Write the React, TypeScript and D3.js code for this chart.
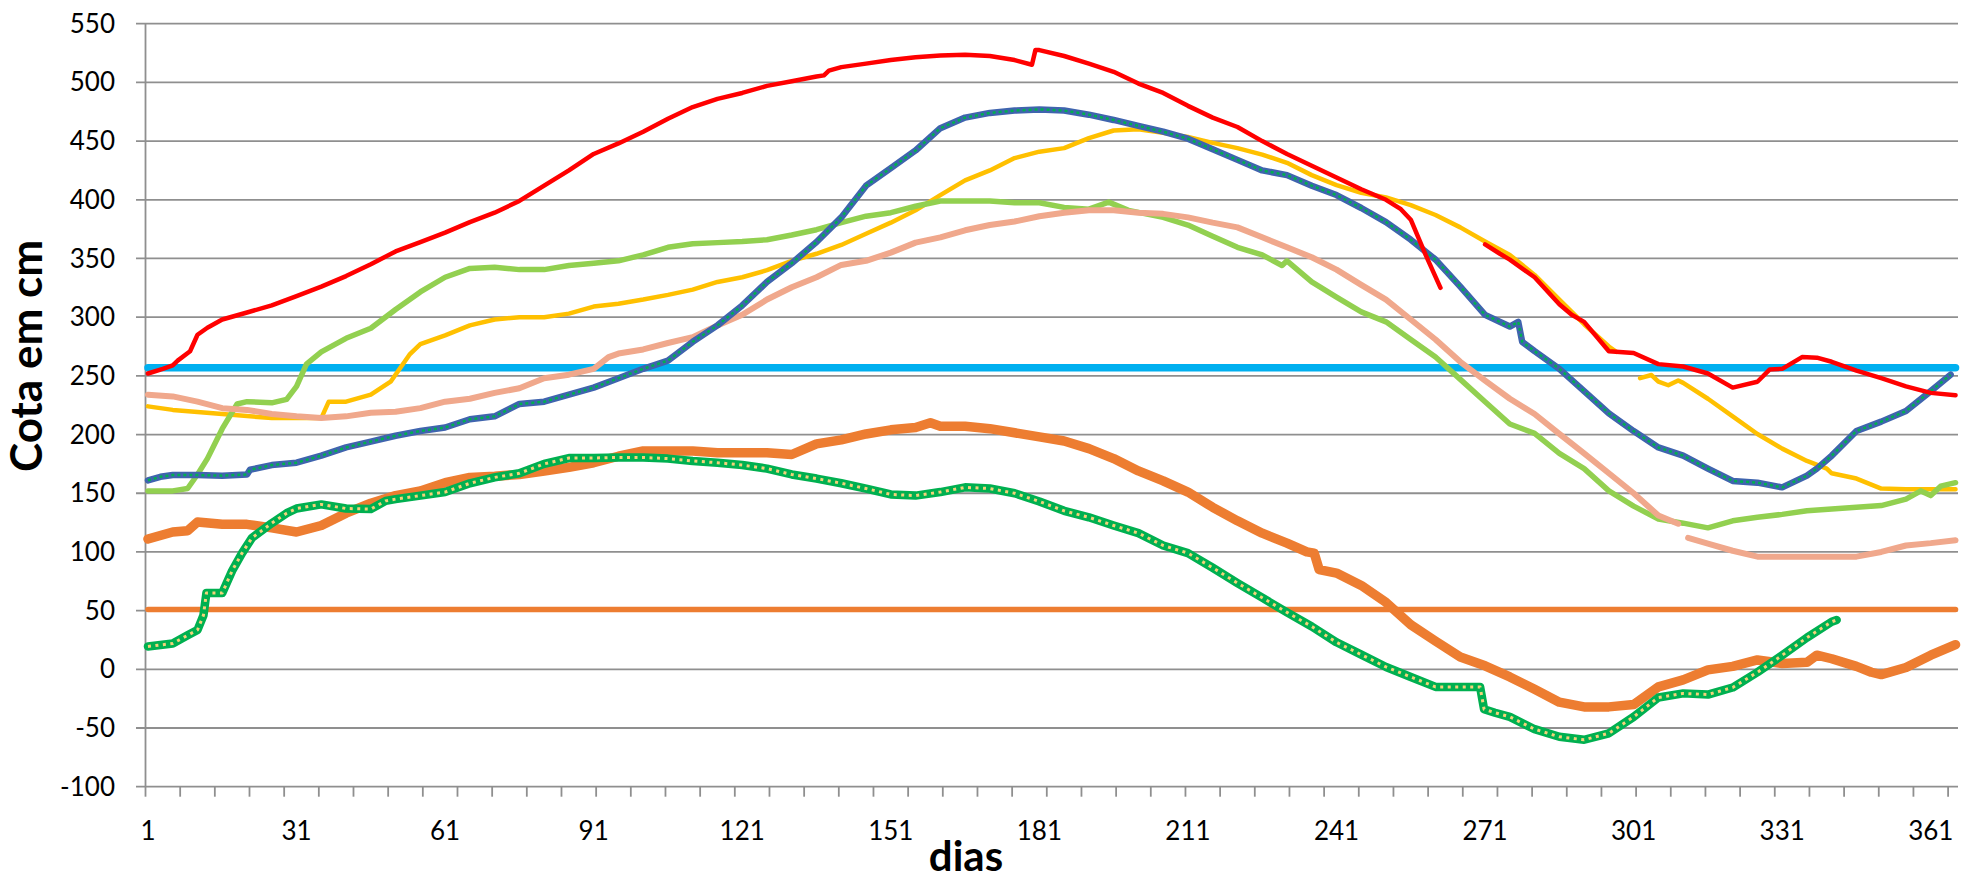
import * as d3 from 'd3'

type Ponto = [number, number | null]

// eixo
const yTicks = [-100, -50, 0, 50, 100, 150, 200, 250, 300, 350, 400, 450, 500, 550]
const xLabels = [1, 31, 61, 91, 121, 151, 181, 211, 241, 271, 301, 331, 361]
const primeiroDia = 1
const ultimoDia = 366

// cotas de referência (linhas horizontais)
const cotaAzul = 257
const cotaLaranja = 51

const serieVermelha: Ponto[] = [
	[1, 252], [4, 256], [6, 259], [7, 263], [9.5, 271], [11, 285], [13, 291], [16, 298], [21, 304], [26, 310],
	[31, 318], [36, 326], [41, 335], [46, 345], [51, 356], [56, 364], [61, 372], [66, 381], [71, 389], [76, 399],
	[81, 412], [86, 425], [91, 439], [96, 448], [101, 458], [106, 469], [111, 479], [116, 486], [121, 491], [126, 497],
	[131, 501], [136, 505], [137.5, 506], [138.5, 510], [141, 513], [146, 516], [151, 519], [156, 521.5], [161, 523],
	[166, 523.5], [171, 522.5], [176, 519], [179.5, 515], [180.2, 527.5], [181, 527.5], [186, 522.5], [191, 516],
	[196, 509], [201, 499], [206, 491], [211, 480], [216, 470], [221, 462], [226, 450], [231, 439], [236, 429],
	[241, 419], [246, 409], [251, 400], [254, 392], [256, 383], [259, 353], [262, 325], [266, null],
	[271, 362], [274, 354], [276, 349], [281, 334], [286, 311], [288.5, 302], [291, 296], [296, 271], [301, 269.5],
	[306, 260], [311, 258], [316, 252], [321, 240], [326, 245], [328.5, 255.5], [331, 256], [335, 266], [338, 265.5],
	[341, 262], [346, 254.5], [351, 248], [356, 241], [361, 235.5], [366, 233.5],
]

const serieAzul: Ponto[] = [
	[1, 161], [3.5, 164], [6, 165.5], [11, 165.5], [16, 165], [21, 166], [21.6, 170], [26, 174], [31, 176], [36, 182],
	[41, 189], [46, 194], [51, 199], [56, 203], [61, 206], [66, 213], [71, 215.5], [75.5, 225], [76, 226], [81, 228],
	[86, 234], [91, 240], [96, 248], [101, 256], [106, 263], [111, 279], [116, 293], [121, 310], [126, 330], [131, 346],
	[136, 364], [141, 385], [146, 412], [151, 427], [156, 442], [161, 461], [166, 470], [171, 474], [176, 476],
	[181, 477], [186, 476], [191, 472.5], [196, 468], [201, 463], [206, 458], [211, 452], [216, 443], [221, 434],
	[226, 425], [231, 421], [236, 412], [241, 404], [246, 393], [251, 381], [256, 366], [261, 349], [266, 326],
	[271, 302], [276, 292], [277.7, 296], [278.5, 279], [281, 271], [286, 256], [291, 237], [296, 218], [301, 203],
	[306, 189], [311, 182], [316, 171], [321, 160.5], [326, 159], [331, 155], [336, 165], [338, 171], [341, 182],
	[346, 203], [351, 211], [356, 220], [361, 237], [365, 251],
]

const serieAmarela: Ponto[] = [
	[1, 224], [6, 221], [16, 217.5], [26, 214], [36, 214], [37.5, 228], [41, 228], [46, 234], [50, 245], [53.8, 268],
	[56, 277], [61, 284.5], [66, 293], [71, 298], [76, 300], [81, 300], [86, 303], [91, 309], [96, 311.5], [101, 315],
	[106, 319], [111, 323.5], [116, 330], [121, 334], [126, 340], [131, 348], [136, 354], [141, 361.5], [146, 371],
	[151, 380.5], [156, 391], [161, 404], [166, 416.5], [171, 425], [176, 435.5], [181, 441], [186, 444], [191, 452.5],
	[196, 459], [201, 460], [206, 457], [211, 453.5], [216, 448.5], [221, 444], [226, 438.5], [231, 431.5], [236, 421],
	[241, 412.5], [246, 406], [251, 402], [256, 395.5], [261, 387], [266, 376.5], [271, 364.5], [276, 353], [281, 336],
	[286, 315], [291, 294], [296, 275], [297.5, 270.5], [300, null], [302.3, 248], [304.6, 250.7], [306, 245],
	[308, 242], [310, 246], [311, 244], [316, 230.5], [321, 215.5], [326, 200.5], [331, 188], [336, 177.5], [340, 171],
	[341, 167], [346, 162.5], [351, 154], [356, 153.5], [361, 153.5], [366, 153.5],
]

const serieVerdeClara: Ponto[] = [
	[1, 152], [6, 152], [9, 154], [11, 166], [13, 179.5], [16, 205], [19, 226], [21, 228], [26, 227], [29, 230],
	[31, 241], [33, 260], [36, 270.5], [41, 282], [46, 290.5], [51, 306.5], [56, 321.5], [61, 334], [66, 341.5],
	[71, 342.5], [76, 340.5], [81, 340.5], [86, 344], [91, 346], [96, 348], [101, 353], [106, 359.5], [111, 362.5],
	[116, 363.5], [121, 364.5], [126, 366], [131, 370], [136, 374.5], [141, 380.5], [146, 386], [151, 389],
	[156, 394.5], [161, 399], [166, 399], [171, 399], [176, 397.5], [181, 397.5], [186, 393.5], [191, 392], [195, 398],
	[199, 391], [206, 385], [211, 378.5], [216, 369], [221, 359.5], [226, 353], [230, 344], [231, 348], [236, 330],
	[241, 317], [246, 304.5], [251, 296], [256, 281], [261, 266], [266, 247], [271, 228], [276, 209], [281, 201],
	[286, 184], [291, 171], [296, 152], [301, 139], [306, 128], [311, 124.5], [316, 120.5], [321, 126.5], [326, 129.5],
	[331, 132], [336, 135], [341, 136.5], [346, 138], [351, 139.5], [356, 145], [359, 152], [361, 148], [363, 156],
	[366, 159],
]

const serieSalmao: Ponto[] = [
	[1, 234], [6, 232.5], [11, 228], [16, 222.5], [21, 221], [26, 217.5], [31, 215.5], [36, 214], [41, 215.5],
	[46, 218.5], [51, 219.5], [56, 222.5], [61, 228], [66, 230.5], [71, 235.5], [76, 239.5], [81, 248], [86, 251],
	[91, 256], [94, 266], [96, 269], [101, 272.5], [106, 278], [111, 283], [116, 293], [121, 302], [126, 315],
	[131, 325.5], [136, 334], [141, 344.5], [146, 348], [151, 355], [156, 363.5], [161, 368], [166, 374], [171, 378.5],
	[176, 381.5], [181, 386], [186, 389], [191, 391], [196, 391], [201, 389], [206, 388], [211, 385], [216, 380.5],
	[221, 376.5], [226, 368], [231, 359.5], [236, 351], [241, 340.5], [246, 327.5], [251, 315], [256, 298], [261, 281],
	[266, 262], [271, 246], [276, 230.5], [281, 217.5], [286, 200.5], [291, 184], [296, 167], [301, 150], [306, 131],
	[310, 124], [311.5, null], [312, 112], [316, 107], [321, 101], [326, 96], [331, 96], [336, 96], [341, 96],
	[346, 96], [351, 100], [356, 105.5], [361, 107.5], [366, 110],
]

const serieLaranja: Ponto[] = [
	[1, 111], [6, 117], [9, 118], [11, 125.5], [16, 123.5], [21, 123.5], [26, 120.5], [31, 117], [36, 122.5], [41, 133],
	[46, 141.5], [51, 148], [56, 152], [61, 159], [66, 163.5], [71, 164.5], [76, 166], [81, 169], [86, 172], [91, 176],
	[96, 181.5], [101, 186], [106, 186], [111, 186], [116, 184.5], [121, 184.5], [126, 184.5], [131, 183], [136, 192],
	[141, 195.5], [146, 200.5], [151, 204], [156, 206], [159, 210], [161, 207], [166, 207], [171, 205], [176, 201.5],
	[181, 198], [186, 194.5], [191, 188], [196, 179.5], [201, 169], [206, 160.5], [211, 151], [216, 138], [221, 126.5],
	[226, 116], [231, 107.5], [235, 100], [236.5, 99], [237.5, 85], [241, 82], [246, 71.5], [251, 57], [256, 38],
	[261, 24], [266, 10.5], [271, 3], [276, -6.5], [281, -17], [286, -28], [291, -32], [296, -32], [301, -30],
	[306, -15], [311, -9], [316, -0.5], [321, 2.5], [326, 8], [331, 5], [336, 6], [338, 12], [341, 9], [346, 2.5],
	[349, -2.5], [351, -4.5], [356, 1.5], [361, 12], [366, 21],
]

const serieVerdeEscura: Ponto[] = [
	[1, 19.5], [6, 22], [9, 29], [11, 33.5], [12.2, 46], [12.8, 65], [16, 65], [18, 84], [20, 99], [22, 112],
	[26, 124.5], [29, 133], [31, 137], [36, 140.5], [41, 137], [46, 136.5], [49, 143.5], [51, 145], [56, 148], [61, 151],
	[66, 158.5], [71, 163.5], [76, 167], [81, 175], [86, 180], [91, 180], [96, 180.5], [101, 180.5], [106, 179.5],
	[111, 177.5], [116, 176], [121, 174], [126, 171], [131, 166], [136, 162.5], [141, 158.5], [146, 154], [151, 149],
	[156, 148], [161, 151], [166, 155], [171, 154], [176, 150], [181, 143], [186, 135], [191, 129.5], [196, 122.5],
	[201, 116], [206, 105.5], [211, 99], [216, 86.5], [221, 73.5], [226, 61], [231, 48.5], [236, 36.5], [241, 23],
	[246, 12.5], [251, 2], [256, -6.5], [261, -15], [266, -15], [270, -15], [270.8, -34], [273, -37], [276, -40.5],
	[281, -51], [286, -57.5], [291, -60], [296, -54.5], [301, -40.5], [306, -24], [311, -20.5], [316, -21.5],
	[321, -15.5], [326, -2.5], [331, 12], [336, 27], [341, 40.5], [342, 42],
]

const width = 1963
const height = 883
const font = 'Lato, "Open Sans", sans-serif'
const gridColor = '#8f8f8f'

export default function App() {
	const x = d3.scaleLinear().domain([0.5, 366.5]).range([145.5, 1958])
	const y = d3.scaleLinear().domain([-100, 550]).range([786.7, 23.7])

	const line = d3
		.line<Ponto>()
		.defined((d) => d[1] !== null)
		.x((d) => x(d[0]))
		.y((d) => y(d[1] as number))

	const horizontal = (v: number): Ponto[] => [
		[primeiroDia, v],
		[ultimoDia, v],
	]

	// ordem de desenho = ordem das camadas
	const series = [
		{ key: 'azul-claro', data: horizontal(cotaAzul), color: '#00B0F0', w: 7.5 },
		{ key: 'laranja-ref', data: horizontal(cotaLaranja), color: '#ED7D31', w: 5.5 },
		{ key: 'amarela', data: serieAmarela, color: '#FFC000', w: 4.5 },
		{ key: 'verde-clara', data: serieVerdeClara, color: '#92D050', w: 5.5 },
		{ key: 'salmao', data: serieSalmao, color: '#F0A88C', w: 6 },
		{ key: 'azul', data: serieAzul, color: '#3F64AE', w: 6.5 },
		{ key: 'azul-pontos', data: serieAzul, color: '#00B050', w: 2.5, dash: '3 3' },
		{ key: 'laranja', data: serieLaranja, color: '#ED7D31', w: 9.5 },
		{ key: 'verde-escura', data: serieVerdeEscura, color: '#00B050', w: 8.5 },
		{ key: 'verde-marcas', data: serieVerdeEscura, color: '#F5D27A', w: 3, dash: '3 4.5' },
		{ key: 'vermelha', data: serieVermelha, color: '#FF0000', w: 4.5 },
	]

	const [x0, x1] = x.range()
	const yBottom = y(-100)
	const yTop = y(550)
	const xTickPos = d3.range(0.5, ultimoDia, 7)

	return (
		<svg
			width={width}
			height={height}
			viewBox={`0 0 ${width} ${height}`}
			style={{ position: 'absolute', left: 0, top: 0, background: '#fff' }}
		>
			<rect width={width} height={height} fill="#fff" />

			{yTicks.map((t) => (
				<g key={t}>
					<line x1={x0 - 9.5} x2={x1} y1={y(t)} y2={y(t)} stroke={gridColor} strokeWidth={1.8} />
					<text
						x={115}
						y={y(t)}
						dy="0.35em"
						textAnchor="end"
						fontFamily={font}
						fontSize={26}
						fill="#000"
					>
						{t}
					</text>
				</g>
			))}

			<line x1={x0} x2={x0} y1={yTop} y2={yBottom} stroke={gridColor} strokeWidth={1.8} />
			{xTickPos.map((d) => (
				<line key={d} x1={x(d)} x2={x(d)} y1={yBottom} y2={yBottom + 10} stroke={gridColor} strokeWidth={1.8} />
			))}
			{xLabels.map((d) => (
				<text key={d} x={x(d)} y={840} textAnchor="middle" fontFamily={font} fontSize={26} fill="#000">
					{d}
				</text>
			))}

			{series.map((s) => (
				<path
					key={s.key}
					d={line(s.data) ?? ''}
					fill="none"
					stroke={s.color}
					strokeWidth={s.w}
					strokeLinejoin="round"
					strokeLinecap={s.dash ? 'butt' : 'round'}
					strokeDasharray={s.dash}
				/>
			))}

			<text
				transform={`translate(42, 356) rotate(-90)`}
				textAnchor="middle"
				fontFamily={font}
				fontWeight={700}
				fontSize={44}
				fill="#000"
			>
				Cota em cm
			</text>
			<text x={966} y={871} textAnchor="middle" fontFamily={font} fontWeight={700} fontSize={42} fill="#000">
				dias
			</text>
		</svg>
	)
}
